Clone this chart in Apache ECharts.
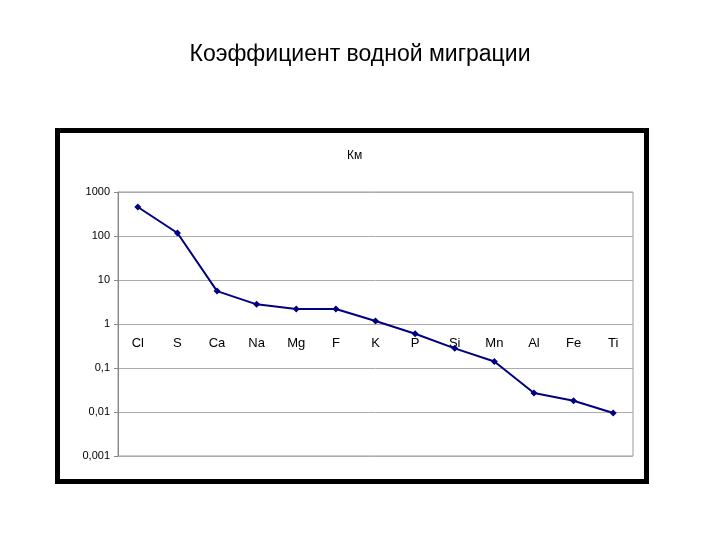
<!DOCTYPE html>
<html><head><meta charset="utf-8">
<script src="https://cdn.jsdelivr.net/npm/echarts@6/dist/echarts.min.js"></script>
<style>
html,body{margin:0;background:#fff}
#main{width:720px;height:540px;position:relative}
#box{position:absolute;left:55px;top:128px;width:584px;height:346px;border:5px solid #000;pointer-events:none}
</style></head>
<body><div id="main"></div><div id="box"></div>
<script>
const elements = ['Cl','S','Ca','Na','Mg','F','K','P','Si','Mn','Al','Fe','Ti'];
const km = [457,117,5.6,2.8,2.2,2.2,1.17,0.6,0.28,0.14,0.027,0.018,0.0095];
const tickNames = {1000:'1000',100:'100',10:'10',1:'1',0.1:'0,1',0.01:'0,01',0.001:'0,001'};

var myChart = echarts.init(document.getElementById('main'));
myChart.setOption({
  animation: false,
  title: [
    { text: 'Коэффициент водной миграции', left: 'center', top: 38,
      textStyle: { fontFamily: 'Liberation Sans', fontSize: 23, fontWeight: 'normal', color: '#000' } },
    { text: 'Км', left: 342, top: 145,
      textStyle: { fontFamily: 'Liberation Sans', fontSize: 12, fontWeight: 'normal', color: '#000' } }
  ],
  grid: { left: 118, right: 87, top: 192, bottom: 84, show: true, borderColor: '#999', borderWidth: 1 },
  xAxis: {
    type: 'category', data: elements, boundaryGap: true, offset: -133,
    axisLine: { show: false }, axisTick: { show: false },
    axisLabel: { margin: 14, fontFamily: 'Liberation Sans', fontSize: 13, color: '#000' }
  },
  yAxis: {
    type: 'log', logBase: 10, min: 0.001, max: 1000,
    axisLine: { show: true, lineStyle: { color: '#888' } },
    axisTick: { show: true, length: 4, lineStyle: { color: '#888' } },
    splitLine: { lineStyle: { color: '#aaa' } },
    axisLabel: { fontFamily: 'Liberation Sans', fontSize: 11, color: '#000',
      formatter: v => tickNames[+v.toPrecision(3)] || String(v) }
  },
  series: [{
    type: 'line', data: km, symbol: 'diamond', symbolSize: 7,
    lineStyle: { color: '#000080', width: 2 },
    itemStyle: { color: '#000080' }
  }]
});
</script></body></html>
